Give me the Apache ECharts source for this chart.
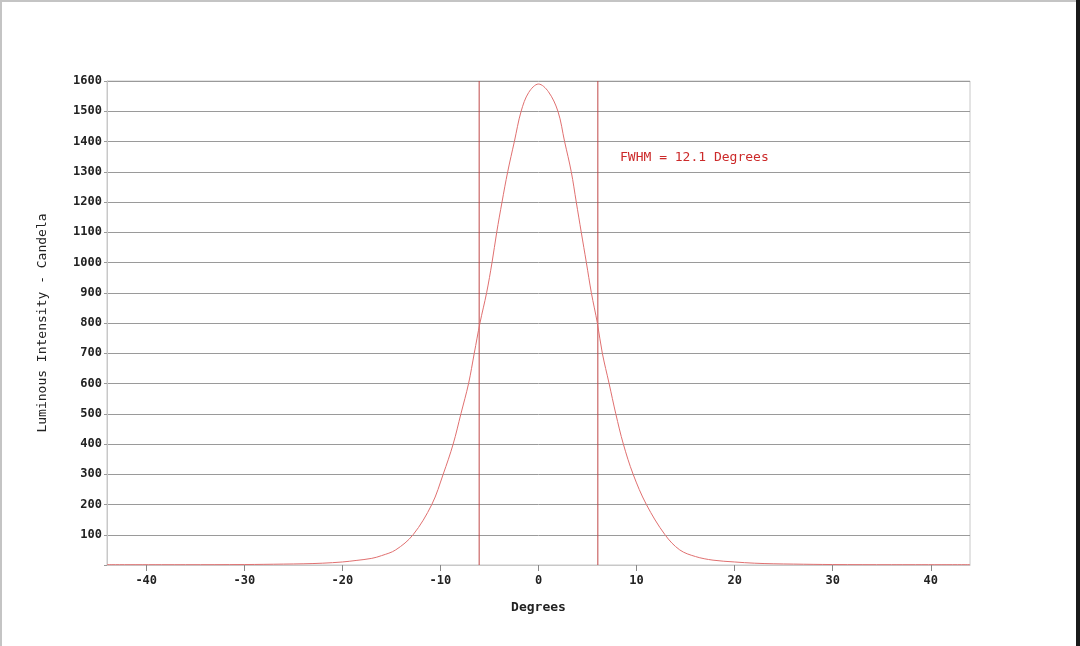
<!DOCTYPE html>
<html>
<head>
<meta charset="utf-8">
<script src="https://cdn.jsdelivr.net/npm/echarts@6/dist/echarts.min.js"></script>
<style>
html,body{margin:0;padding:0;background:#fff;}
#c{width:1080px;height:646px;position:absolute;left:0;top:0;}
.b{position:absolute;}
</style>
</head>
<body>
<div id="c"></div>
<div class="b" style="left:0;top:0;width:2px;height:646px;background:#c4c4c4"></div>
<div class="b" style="left:0;top:0;width:1080px;height:2px;background:#c4c4c4"></div>
<div class="b" style="left:1076px;top:0;width:4px;height:646px;background:#1a1a1a"></div>
<script>
// Angle (degrees) and luminous intensity (candela)
const degrees = [-44,-36,-30,-26,-24,-22,-20,-18.6,-17,-16,-14.56,-12.79,-10.88,-9.72,-8.7,-7.91,-7.13,-6.55,-5.97,-5.29,-4.74,-4.26,-3.72,-3.14,-2.46,-1.77,-1,0,1,1.98,2.66,3.34,3.85,4.36,4.88,5.39,6.0,6.51,7.2,7.88,8.65,9.65,11.0,12.9,14.4,16,17.8,20,22,24,26,30,36,44];
const intensity = [1,1,1.5,3,4,6,10,15,22,31,50,100,200,300,400,500,600,700,800,900,1000,1100,1200,1300,1400,1500,1562,1590,1565,1500,1400,1300,1200,1100,1000,900,800,700,600,500,400,300,200,100,50,28,16,10,6,4,3,1.5,1,1];
const fwhmLines = [-6.05, 6.05];
const yTicks = [100,200,300,400,500,600,700,800,900,1000,1100,1200,1300,1400,1500,1600];
const xTicks = [-40,-30,-20,-10,0,10,20,30,40];
const annotation = 'FWHM = 12.1 Degrees';

const curve = degrees.map((d,i)=>[d,intensity[i]]);
const mono = 'DejaVu Sans Mono';
const lineCol = '#c04848';
const vSeries = fwhmLines.map(v=>({
  type:'line',data:[[v,0],[v,1600]],showSymbol:false,silent:true,
  lineStyle:{color:lineCol,width:1},itemStyle:{color:lineCol},z:3
}));
const chart = echarts.init(document.getElementById('c'));
chart.setOption({
  animation:false,
  backgroundColor:'#fff',
  grid:{left:107,right:110,top:81,bottom:81,show:true,borderColor:'#c8c8c8',borderWidth:1},
  xAxis:{
    type:'value',min:-44,max:44,
    name:'Degrees',nameLocation:'middle',nameGap:36,
    nameTextStyle:{fontFamily:mono,fontSize:13,color:'#222',fontWeight:'bold'},
    axisLine:{show:true,onZero:false,lineStyle:{color:'#c8c8c8',width:1}},
    axisTick:{show:true,customValues:xTicks,length:6,lineStyle:{color:'#888'}},
    axisLabel:{customValues:xTicks,fontFamily:mono,fontSize:12,fontWeight:'bold',color:'#222',margin:10},
    splitLine:{show:false}
  },
  yAxis:{
    type:'value',min:0,max:1600,interval:100,
    name:'Luminous Intensity - Candela',nameLocation:'middle',nameGap:58,nameRotate:90,
    nameTextStyle:{fontFamily:mono,fontSize:13,color:'#222'},
    axisLine:{show:true,onZero:false,lineStyle:{color:'#c8c8c8',width:1}},
    axisTick:{show:true,length:3,lineStyle:{color:'#999'}},
    axisLabel:{fontFamily:mono,fontSize:12,fontWeight:'bold',color:'#222',margin:5,
      formatter:v=>yTicks.includes(v)?String(v):''},
    splitLine:{show:true,lineStyle:{color:'#9a9a9a',width:1}}
  },
  series:[{
    type:'line',data:curve,smooth:0.35,showSymbol:false,
    lineStyle:{color:'#e07070',width:1},itemStyle:{color:'#e07070'},z:4
  }].concat(vSeries),
  graphic:[{
    type:'text',left:620,top:151,
    style:{text:annotation,fontFamily:mono,fontSize:13,fill:'#cc2a2a'}
  }]
});
</script>
</body>
</html>
